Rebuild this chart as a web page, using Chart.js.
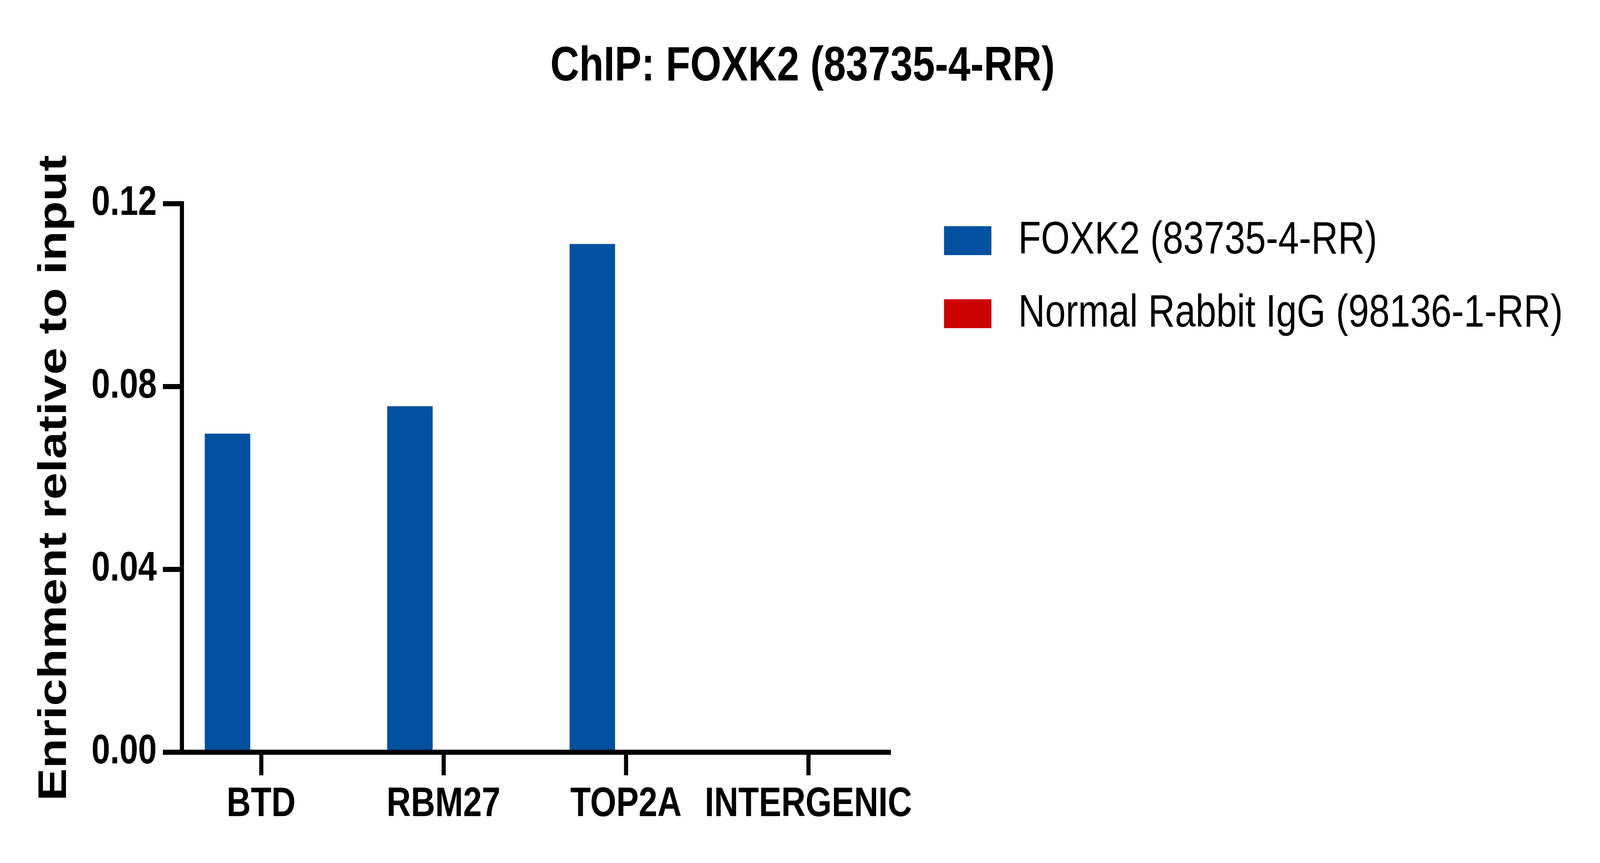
<!DOCTYPE html>
<html>
<head>
<meta charset="utf-8">
<title>ChIP: FOXK2 (83735-4-RR)</title>
<script src="https://cdn.jsdelivr.net/npm/chart.js@4.4.1/dist/chart.umd.min.js"></script>
<style>
  html, body { margin: 0; padding: 0; background: #fff; overflow: hidden; }
  /* la ventana real puede ser mas estrecha que 5000px: se ajusta el lienzo a la ventana */
  #chart { display: block; width: 100vw !important; height: 100vh !important; }
</style>
</head>
<body>
<canvas id="chart" width="5000" height="2209"></canvas>
<script>
// Datos del grafico
const titleText = 'ChIP: FOXK2 (83735-4-RR)';
const yTitle = 'Enrichment relative to input';
const categories = ['BTD', 'RBM27', 'TOP2A', 'INTERGENIC'];
const seriesLabels = ['FOXK2 (83735-4-RR)', 'Normal Rabbit IgG (98136-1-RR)'];
const foxk2Values = [0.0697, 0.0757, 0.1112, 0];
const iggValues = [0, 0, 0, 0];
const yTicks = [0, 0.04, 0.08, 0.12];

const BLUE = '#0251A0';
const RED = '#CC0202';
const FONT = "'Liberation Sans', Arial, sans-serif";

Chart.defaults.font.family = FONT;
Chart.defaults.color = '#000';

// Leyenda a la derecha, dibujada a mano
const sideLegend = {
    id: 'sideLegend',
    afterDraw(chart, args, opts) {
        const ctx = chart.ctx;
        ctx.save();
        ctx.font = opts.font;
        ctx.textBaseline = 'middle';
        ctx.textAlign = 'left';
        chart.data.datasets.forEach((ds, i) => {
            const top = opts.top + i * opts.rowGap;
            ctx.fillStyle = ds.backgroundColor;
            ctx.fillRect(opts.left, top, opts.boxWidth, opts.boxHeight);
            ctx.fillStyle = '#000';
            ctx.fillText(ds.label, opts.textLeft, top + opts.boxHeight / 2 + 1);
        });
        ctx.restore();
    }
};

const axisLine = { display: true, width: 13, color: '#000', z: 1 };
const axisGrid = {
    offset: false,
    drawOnChartArea: false,
    drawTicks: true,
    tickLength: 59,
    lineWidth: 13,
    tickWidth: 13,
    color: '#000',
    tickColor: '#000'
};
const tickFont = { size: 105, weight: 'bold' };

const ctx = document.getElementById('chart').getContext('2d');
const chart = new Chart(ctx, {
    type: 'bar',
    data: {
        datasets: [
            {
                label: seriesLabels[0],
                data: categories.map((c, i) => ({ x: i, y: foxk2Values[i] })),
                backgroundColor: BLUE,
                borderWidth: 0,
                barPercentage: 0.676,
                categoryPercentage: 0.737
            },
            {
                label: seriesLabels[1],
                data: categories.map((c, i) => ({ x: i, y: iggValues[i] })),
                backgroundColor: RED,
                borderWidth: 0,
                barPercentage: 0.676,
                categoryPercentage: 0.737
            }
        ]
    },
    options: {
        responsive: false,
        animation: false,
        devicePixelRatio: 1,
        layout: { padding: { left: 16, right: 0, top: 0, bottom: 0 } },
        plugins: {
            legend: { display: false },
            tooltip: { enabled: false },
            title: {
                display: true,
                text: titleText,
                color: '#000',
                font: { size: 125, weight: 'bold' },
                padding: { top: 97, bottom: 274.5 }
            },
            sideLegend: {
                font: '116px ' + FONT,
                left: 2950,
                top: 579,
                boxWidth: 148,
                boxHeight: 74,
                rowGap: 187,
                textLeft: 3182
            }
        },
        scales: {
            x: {
                type: 'linear',
                offset: false,
                min: -0.4351,
                max: 3.4412,
                afterBuildTicks: s => { s.ticks = categories.map((c, i) => ({ value: i })); },
                ticks: {
                    callback: v => categories[v],
                    font: tickFont,
                    color: '#000',
                    padding: 13,
                    maxRotation: 0,
                    autoSkip: false
                },
                grid: axisGrid,
                border: axisLine,
                afterFit: s => { s.height = 283.5; }
            },
            y: {
                min: 0,
                max: 0.12,
                afterBuildTicks: s => { s.ticks = yTicks.map(v => ({ value: v })); },
                ticks: {
                    callback: v => v.toFixed(2),
                    font: tickFont,
                    color: '#000',
                    padding: 19
                },
                grid: axisGrid,
                border: axisLine,
                title: {
                    display: true,
                    text: yTitle,
                    color: '#000',
                    font: { size: 125, weight: 'bold' },
                    padding: { top: 80.7, bottom: 0 }
                },
                afterFit: s => { s.width = 552; }
            },
            // espacio reservado para la leyenda
            legendSpace: {
                type: 'linear',
                position: 'right',
                display: true,
                grid: { display: false, drawTicks: false },
                border: { display: false },
                ticks: { display: false },
                afterFit: s => { s.width = 2222.5; }
            }
        }
    },
    plugins: [sideLegend]
});
</script>
</body>
</html>
